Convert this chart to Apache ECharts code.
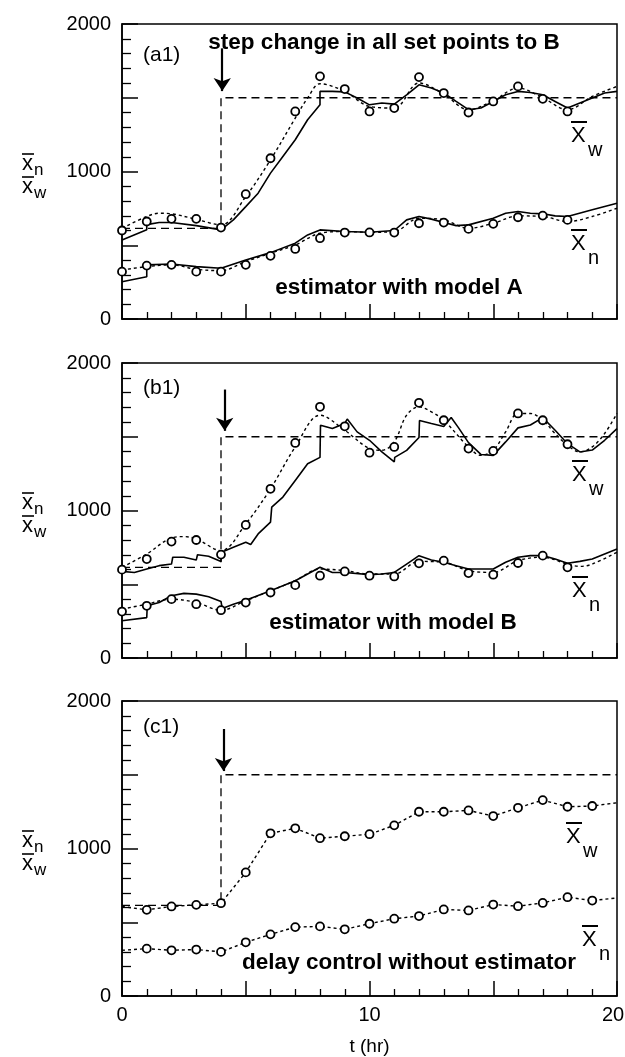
<!DOCTYPE html>
<html>
<head>
<meta charset="utf-8">
<script src="https://cdn.jsdelivr.net/npm/echarts@6/dist/echarts.min.js"></script>
<style>
  html, body { margin: 0; padding: 0; background: #ffffff; }
  #chart { width: 625px; height: 1057px; }
</style>
</head>
<body>
<div id="chart"></div>
<script>
// ---- data (t in hours, values of number/weight average chain length) ----
const sampleHoursAB = [0, 1, 2, 3, 4, 5, 6, 7, 8, 9, 10, 11, 12, 13, 14, 15, 16, 17, 18];
const sampleHoursC = [1, 2, 3, 4, 5, 6, 7, 8, 9, 10, 11, 12, 13, 14, 15, 16, 17, 18, 19];

// set point of x_w: step change at t = 4 h
const setpointT = [0, 4, 4, 20];
const setpointXw = [615, 615, 1500, 1500];

// panel (a1): estimator with model A
const aXwMeasured = [600, 661, 679, 679, 620, 846, 1090, 1407, 1645, 1559, 1407, 1430, 1640, 1532, 1400, 1475, 1577, 1493, 1407];
const aXnMeasured = [321, 362, 367, 321, 321, 367, 428, 475, 548, 586, 587, 586, 649, 654, 611, 645, 690, 701, 672];
const aXwFit = [[0, 615], [1, 695], [1.5, 717], [2, 713], [3, 676], [4, 638], [5, 830], [6, 1079], [7, 1362], [7.5, 1498], [8, 1595], [9, 1543], [10, 1441], [11, 1430], [12, 1600], [13, 1525], [14, 1419], [15, 1480], [16, 1566], [17, 1500], [18, 1419], [19, 1509], [20, 1577]];
const aXnFit = [[0, 332], [1, 355], [2, 367], [3, 337], [4, 328], [5, 389], [6, 446], [7, 502], [8, 581], [9, 593], [10, 588], [11, 593], [12, 683], [13, 672], [14, 615], [15, 649], [16, 699], [17, 695], [18, 661], [19, 695], [20, 751]];
const aXwEstimate = [[0, 536], [1, 605], [1, 640], [1.5, 654], [2, 654], [3, 633], [4, 604], [4.5, 672], [5, 762], [5.5, 853], [6, 989], [6.5, 1102], [7, 1215], [7.5, 1351], [8, 1452], [8, 1543], [8.5, 1543], [9, 1540], [9.5, 1498], [10, 1452], [10.5, 1464], [11, 1457], [11.5, 1520], [12, 1588], [12.5, 1566], [13, 1532], [13.5, 1475], [14, 1419], [14.5, 1430], [15, 1475], [15.5, 1520], [16, 1543], [16.5, 1536], [17, 1520], [17.5, 1475], [18, 1430], [18.5, 1464], [19, 1498], [19.5, 1532], [20, 1543]];
const aXnEstimate = [[0, 253], [1, 287], [1, 367], [2, 373], [3, 355], [4, 344], [5, 400], [6, 450], [7, 514], [7.5, 570], [8, 604], [9, 593], [10, 588], [11, 600], [11.5, 672], [12, 695], [12.5, 677], [13, 654], [13.5, 633], [14, 638], [15, 683], [15.5, 717], [16, 729], [16.5, 717], [17, 713], [17.5, 699], [18, 695], [19, 740], [20, 785]];

// panel (b1): estimator with model B
const bXwMeasured = [599, 671, 789, 800, 701, 902, 1147, 1458, 1703, 1571, 1392, 1431, 1730, 1612, 1420, 1404, 1658, 1612, 1449];
const bXnMeasured = [315, 354, 399, 365, 324, 376, 444, 494, 558, 587, 558, 553, 642, 660, 576, 565, 644, 694, 615];
const bXwFit = [[0, 615], [1, 705], [2, 814], [2.5, 823], [3, 807], [4, 728], [5, 909], [6, 1147], [7, 1431], [8, 1646], [9, 1544], [10, 1420], [10.5, 1408], [11, 1465], [11.5, 1646], [12, 1703], [12.5, 1669], [13, 1612], [14, 1431], [14.5, 1374], [15, 1408], [15.5, 1533], [16, 1658], [16.5, 1658], [17, 1612], [17.5, 1522], [18, 1442], [18.5, 1397], [19, 1431], [19.5, 1522], [20, 1658]];
const bXnFit = [[0, 331], [1, 365], [2, 399], [3, 376], [4, 324], [5, 388], [6, 456], [7, 524], [8, 603], [9, 592], [10, 569], [11, 569], [12, 655], [13, 649], [14, 592], [15, 580], [16, 660], [17, 683], [18, 637], [18.5, 621], [19, 637], [20, 717]];
const bXwEstimate = [[0, 587], [0.5, 580], [1, 603], [1.5, 626], [2, 637], [2.05, 683], [2.5, 683], [3, 664], [3.05, 700], [3.5, 690], [4, 655], [4.02, 717], [4.5, 751], [5, 785], [5.2, 770], [5.5, 841], [6, 921], [6.05, 1023], [6.5, 1091], [7, 1204], [7.5, 1317], [8, 1360], [8.02, 1578], [8.5, 1556], [9, 1590], [9.1, 1620], [9.5, 1533], [10, 1476], [10.5, 1397], [11, 1329], [11.02, 1360], [11.5, 1408], [12, 1495], [12.02, 1610], [12.5, 1590], [13, 1570], [13.3, 1630], [13.6, 1560], [14, 1460], [14.5, 1380], [15, 1374], [15.5, 1465], [16, 1560], [16.5, 1580], [17, 1630], [17.5, 1544], [18, 1453], [18.5, 1397], [19, 1410], [19.5, 1476], [20, 1555]];
const bXnEstimate = [[0, 252], [1, 274], [1.02, 354], [1.5, 376], [2, 422], [2.5, 438], [3, 433], [3.5, 415], [4, 383], [4.05, 335], [4.5, 365], [5, 392], [6, 456], [7, 524], [8, 615], [8.5, 580], [9, 580], [10, 565], [10.5, 569], [11, 580], [11.5, 637], [12, 694], [12.5, 664], [13, 649], [13.5, 626], [14, 603], [14.5, 603], [15, 603], [15.5, 649], [16, 683], [16.5, 694], [17, 694], [17.5, 671], [18, 642], [18.5, 655], [19, 671], [19.5, 705], [20, 739]];

// panel (c1): delay control without estimator
const cXwMeasured = [584, 607, 618, 629, 838, 1103, 1137, 1070, 1083, 1097, 1157, 1249, 1249, 1258, 1220, 1276, 1328, 1283, 1288];
const cXnMeasured = [321, 310, 315, 299, 364, 418, 467, 472, 452, 490, 524, 542, 587, 580, 620, 609, 631, 670, 647];
const cXwEnds = [607, 1310];   // curve values at t = 0 and t = 20
const cXnEnds = [310, 665];

// tick labels
const xTickLabels = [0, 10, 20];
const yTickLabels = [0, 1000, 2000];

// ---- layout ----
const FONT = '"Liberation Sans", Arial, sans-serif';
const INK = '#000000';
const GRID_LEFT = 122, GRID_W = 495, GRID_H = 295;
const panelTops = [24, 363, 701];

const zip = (ts, vs) => ts.map((t, i) => [t, vs[i]]);

const panels = [
  {
    tag: '(a1)', tagY: 55, caption: 'estimator with model A', capX: 399, capY: 288,
    arrowT: 4.05, arrowFrom: 1835, arrowTo: 1545,
    xwMeasured: zip(sampleHoursAB, aXwMeasured), xnMeasured: zip(sampleHoursAB, aXnMeasured),
    xwFit: aXwFit, xnFit: aXnFit, xwEst: aXwEstimate, xnEst: aXnEstimate,
    xwLbl: { x: 571, y: 136 }, xnLbl: { x: 571, y: 244 }
  },
  {
    tag: '(b1)', tagY: 388, caption: 'estimator with model B', capX: 393, capY: 623,
    arrowT: 4.15, arrowFrom: 1820, arrowTo: 1540,
    xwMeasured: zip(sampleHoursAB, bXwMeasured), xnMeasured: zip(sampleHoursAB, bXnMeasured),
    xwFit: bXwFit, xnFit: bXnFit, xwEst: bXwEstimate, xnEst: bXnEstimate,
    xwLbl: { x: 572, y: 475 }, xnLbl: { x: 572, y: 591 }
  },
  {
    tag: '(c1)', tagY: 727, caption: 'delay control without estimator', capX: 409, capY: 963,
    arrowT: 4.1, arrowFrom: 1810, arrowTo: 1525,
    xwMeasured: zip(sampleHoursC, cXwMeasured), xnMeasured: zip(sampleHoursC, cXnMeasured),
    xwFit: [[0, cXwEnds[0]]].concat(zip(sampleHoursC, cXwMeasured), [[20, cXwEnds[1]]]),
    xnFit: [[0, cXnEnds[0]]].concat(zip(sampleHoursC, cXnMeasured), [[20, cXnEnds[1]]]),
    xwEst: null, xnEst: null, straightFit: true,
    xwLbl: { x: 566, y: 837 }, xnLbl: { x: 582, y: 940 }
  }
];

const grids = [], xAxes = [], yAxes = [], series = [], graphics = [];

panels.forEach((p, i) => {
  const top = panelTops[i];
  grids.push({
    left: GRID_LEFT, top: top, width: GRID_W, height: GRID_H,
    outerBoundsMode: 'none', containLabel: false,
    show: true, borderColor: INK, borderWidth: 1.5, backgroundColor: 'transparent'
  });
  const last = i === panels.length - 1;
  xAxes.push({
    type: 'value', gridIndex: i, min: 0, max: 20, interval: 5,
    axisLine: { show: true, onZero: false, lineStyle: { color: INK, width: 1.5 } },
    axisTick: { show: true, inside: true, length: 15, lineStyle: { color: INK, width: 1.5 } },
    minorTick: { show: true, splitNumber: 5, length: 7, lineStyle: { color: INK, width: 1.3 } },
    splitLine: { show: false },
    axisLabel: {
      show: last, margin: 9, color: INK, fontFamily: FONT, fontSize: 20,
      // the last label is nudged left so it stays on the page
      formatter: v => (xTickLabels.indexOf(v) < 0 ? '' : (v === 20 ? '{end|' + v + '}' : String(v))),
      rich: { end: { fontFamily: FONT, fontSize: 20, color: INK, padding: [0, 8, 0, 0] } }
    },
    name: last ? 't (hr)' : '', nameLocation: 'middle', nameGap: 41,
    nameTextStyle: { color: INK, fontFamily: FONT, fontSize: 19 }
  });
  yAxes.push({
    type: 'value', gridIndex: i, min: 0, max: 2000, interval: 500,
    axisLine: { show: true, onZero: false, lineStyle: { color: INK, width: 1.5 } },
    axisTick: { show: true, inside: true, length: 16, lineStyle: { color: INK, width: 1.5 } },
    minorTick: { show: true, splitNumber: 5, length: 9, lineStyle: { color: INK, width: 1.3 } },
    splitLine: { show: false },
    axisLabel: {
      margin: 11, color: INK, fontFamily: FONT, fontSize: 20,
      formatter: v => (yTickLabels.indexOf(v) >= 0 ? String(v) : '')
    }
  });

  // set point (dashed) with the step-change arrow
  series.push({
    type: 'line', xAxisIndex: i, yAxisIndex: i, data: zip(setpointT, setpointXw),
    symbol: 'none', lineStyle: { color: INK, width: 1.3, type: [8, 5] }, z: 2,
    markLine: {
      silent: true, symbol: ['none', 'arrow'], symbolSize: 13, label: { show: false },
      lineStyle: { color: INK, width: 2.2, type: 'solid' },
      data: [[{ coord: [p.arrowT, p.arrowFrom] }, { coord: [p.arrowT, p.arrowTo] }]]
    }
  });

  // measured trends (dotted) and estimator outputs (solid)
  const dotted = { color: INK, width: 1.4, type: [3, 3] };
  [p.xwFit, p.xnFit].forEach(d => series.push({
    type: 'line', xAxisIndex: i, yAxisIndex: i, data: d, symbol: 'none',
    smooth: p.straightFit ? false : 0.35, lineStyle: dotted, z: 3
  }));
  [p.xwEst, p.xnEst].forEach(d => {
    if (!d) return;
    series.push({
      type: 'line', xAxisIndex: i, yAxisIndex: i, data: d, symbol: 'none',
      lineStyle: { color: INK, width: 1.6 }, z: 4
    });
  });
  // measured samples (open circles)
  [p.xwMeasured, p.xnMeasured].forEach(d => series.push({
    type: 'scatter', xAxisIndex: i, yAxisIndex: i, data: d,
    symbol: 'circle', symbolSize: 8,
    itemStyle: { color: '#ffffff', opacity: 1, borderColor: INK, borderWidth: 1.8 }, z: 5
  }));

  // panel tag and caption
  graphics.push({
    type: 'text', x: 143, y: p.tagY,
    style: { text: p.tag, font: '21px ' + FONT, fill: INK, textVerticalAlign: 'middle', verticalAlign: 'middle' }
  });
  graphics.push({
    type: 'text', x: p.capX, y: p.capY,
    style: {
      text: p.caption, font: 'bold 22.5px ' + FONT, fill: INK,
      textAlign: 'center', align: 'center', textVerticalAlign: 'middle', verticalAlign: 'middle'
    }
  });

  // overbar symbols at the right of the curves
  const barSymbol = (pos, sub) => {
    graphics.push({
      type: 'text', x: pos.x, y: pos.y,
      style: { text: 'X', font: '22px ' + FONT, fill: INK, textVerticalAlign: 'middle', verticalAlign: 'middle' }
    });
    graphics.push({
      type: 'line', shape: { x1: pos.x, y1: pos.y - 14, x2: pos.x + 16, y2: pos.y - 14 },
      style: { stroke: INK, lineWidth: 2 }
    });
    graphics.push({
      type: 'text', x: pos.x + 17, y: pos.y + 14,
      style: { text: sub, font: '20px ' + FONT, fill: INK, textVerticalAlign: 'middle', verticalAlign: 'middle' }
    });
  };
  barSymbol(p.xwLbl, 'w');
  barSymbol(p.xnLbl, 'n');

  // y-axis title: x̄n over x̄w
  const ySym = (yMid, sub) => {
    graphics.push({
      type: 'text', x: 22, y: yMid,
      style: { text: 'x', font: '22px ' + FONT, fill: INK, textVerticalAlign: 'middle', verticalAlign: 'middle' }
    });
    graphics.push({
      type: 'line', shape: { x1: 22, y1: yMid - 10, x2: 34, y2: yMid - 10 },
      style: { stroke: INK, lineWidth: 1.6 }
    });
    graphics.push({
      type: 'text', x: 34, y: yMid + 6,
      style: { text: sub, font: '17px ' + FONT, fill: INK, textVerticalAlign: 'middle', verticalAlign: 'middle' }
    });
  };
  ySym(top + 140, 'n');
  ySym(top + 163, 'w');
});

// caption line above the first panel
graphics.push({
  type: 'text', x: 384, y: 43,
  style: {
    text: 'step change in all set points to B', font: 'bold 22.5px ' + FONT, fill: INK,
    textAlign: 'center', align: 'center', textVerticalAlign: 'middle', verticalAlign: 'middle'
  }
});

const chart = echarts.init(document.getElementById('chart'), null, { renderer: 'canvas' });
chart.setOption({
  animation: false,
  backgroundColor: '#ffffff',
  grid: grids,
  xAxis: xAxes,
  yAxis: yAxes,
  series: series,
  graphic: graphics
});
</script>
</body>
</html>
